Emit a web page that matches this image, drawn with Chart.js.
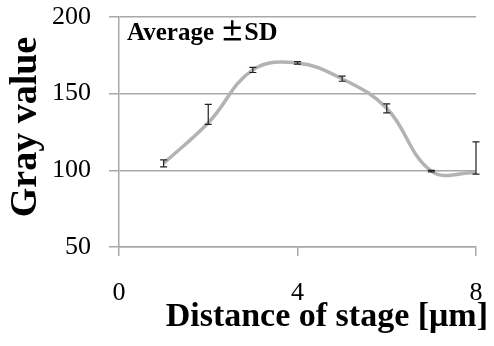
<!DOCTYPE html>
<html><head><meta charset="utf-8">
<script src="https://cdn.jsdelivr.net/npm/chart.js@4"></script>
<style>html,body{margin:0;padding:0;background:#fff}#w{width:494px;height:346px}</style>
</head><body><div id="w"><canvas id="c" width="494" height="346"></canvas></div>
<script>
const distances = [1, 2, 3, 4, 5, 6, 7, 8];
const grayMean  = [104.5, 131, 165.5, 170, 159.7, 140.5, 99.5, 98.5];
const errLow    = [102.2, 130, 163.8, 169.3, 158.1, 137.5, 99, 97.5];
const errHigh   = [106.8, 143, 167.2, 170.9, 161.4, 143.4, 100, 118.6];
const xTicks = [0, 4, 8];
const yTicks = [50, 100, 150, 200];
const xTitle = 'Distance of stage [μm]';
const yTitle = 'Gray value';
const noteParts = ['Average ', '±', 'SD'];

const SERIF = '"Liberation Serif", "Times New Roman", serif';
const CJK = '"Noto Sans CJK JP", sans-serif';

const errorBars = {
  id: 'errorBars',
  afterDatasetsDraw(chart) {
    const {ctx, scales: {x, y}} = chart;
    ctx.save();
    ctx.strokeStyle = '#222';
    ctx.lineWidth = 1.2;
    distances.forEach((d, i) => {
      const px = x.getPixelForValue(d);
      const lo = y.getPixelForValue(errLow[i]);
      const hi = y.getPixelForValue(errHigh[i]);
      ctx.beginPath();
      ctx.moveTo(px, lo); ctx.lineTo(px, hi);
      ctx.moveTo(px - 3.5, lo); ctx.lineTo(px + 3.5, lo);
      ctx.moveTo(px - 3.5, hi); ctx.lineTo(px + 3.5, hi);
      ctx.stroke();
    });
    ctx.restore();
  }
};

const titles = {
  id: 'titles',
  afterDraw(chart) {
    const {ctx, chartArea: a} = chart;
    ctx.save();
    ctx.fillStyle = '#000';
    ctx.textAlign = 'left';
    ctx.textBaseline = 'alphabetic';
    let tx = a.left + 8;
    const fonts = ['bold 25px ' + SERIF, 'bold 24px ' + CJK, 'bold 26px ' + SERIF];
    noteParts.forEach((p, i) => {
      ctx.font = fonts[i];
      ctx.fillText(p, tx, a.top + 23);
      tx += ctx.measureText(p).width;
    });
    ctx.font = 'bold 34px ' + SERIF;
    ctx.textAlign = 'right';
    ctx.fillText(xTitle, chart.width - 6, 326);
    ctx.font = 'bold 38px ' + SERIF;
    ctx.translate(36, 127);
    ctx.rotate(-Math.PI / 2);
    ctx.textAlign = 'center';
    ctx.fillText(yTitle, 0, 0);
    ctx.restore();
  }
};

new Chart(document.getElementById('c'), {
  type: 'line',
  data: {
    datasets: [{
      data: distances.map((d, i) => ({x: d, y: grayMean[i]})),
      borderColor: '#b3b3b3',
      borderWidth: 3.5,
      tension: 0.4,
      pointRadius: 0,
      fill: false
    }]
  },
  options: {
    responsive: false,
    animation: false,
    layout: {padding: {top: 17, right: 18, left: 0, bottom: 0}},
    plugins: {legend: {display: false}, tooltip: {enabled: false}},
    scales: {
      x: {
        type: 'linear', min: 0, max: 8,
        afterBuildTicks(s) { s.ticks = xTicks.map(v => ({value: v})); },
        afterFit(s) { s.height = 99; s.paddingLeft = 0; s.paddingRight = 0; },
        grid: {drawOnChartArea: false, drawTicks: true, tickLength: 9, color: '#a8a8a8', lineWidth: 1.5},
        border: {display: true, color: '#a8a8a8', width: 1.5},
        ticks: {font: {family: SERIF, size: 26}, color: '#000', padding: 22, maxRotation: 0}
      },
      y: {
        min: 50, max: 200,
        afterBuildTicks(s) { s.ticks = yTicks.map(v => ({value: v})); },
        afterFit(s) { s.width = 119; s.paddingTop = 0; s.paddingBottom = 0; },
        grid: {drawTicks: true, tickLength: 10, color: '#a8a8a8', lineWidth: 1.5},
        border: {display: true, color: '#a8a8a8', width: 1.5},
        ticks: {font: {family: SERIF, size: 26}, color: '#000', padding: 18}
      }
    }
  },
  plugins: [errorBars, titles]
});
</script></body></html>
